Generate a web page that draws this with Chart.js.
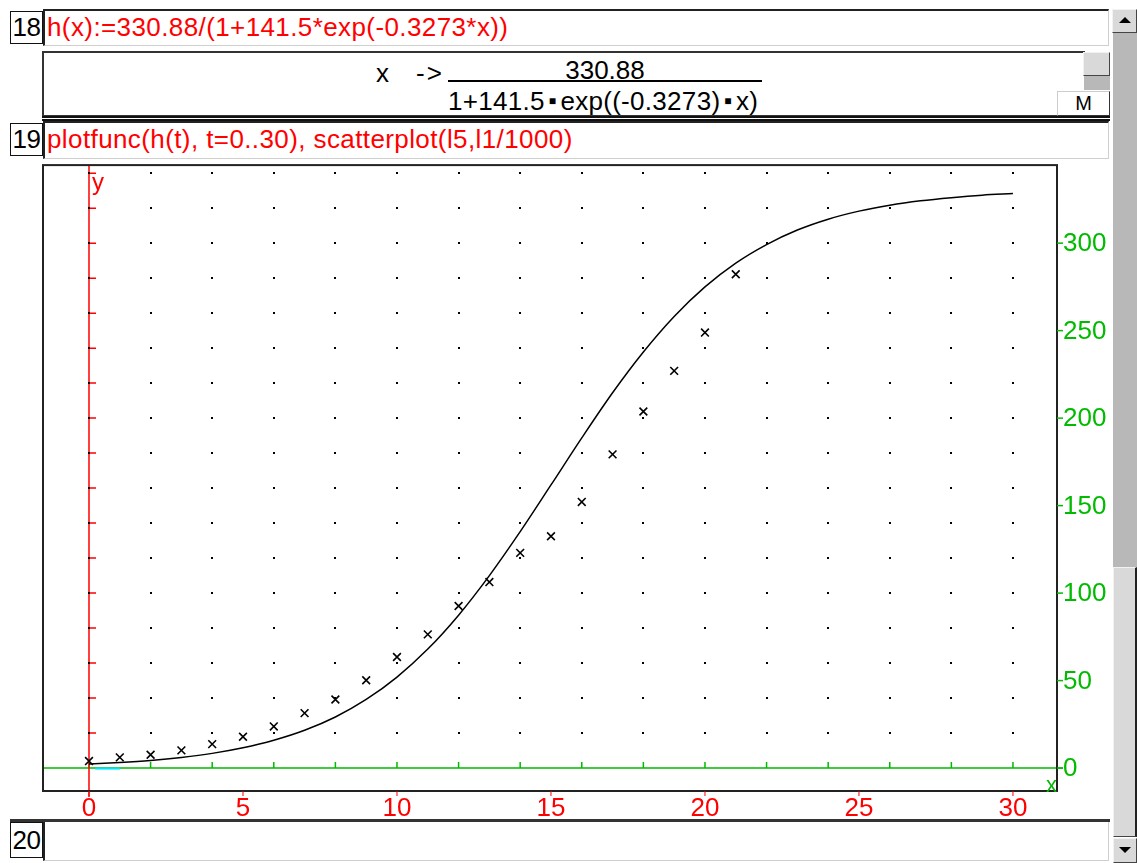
<!DOCTYPE html>
<html>
  <head>
    <meta charset="utf-8" />
    <script src="https://cdn.jsdelivr.net/npm/chart.js"></script>
    <style>
      body {
        margin: 0;
        width: 1137px;
        height: 863px;
        background: #fff;
        position: relative;
        overflow: hidden;
        font-family: "Liberation Sans", Arial, sans-serif;
      }
      .abs { position: absolute; box-sizing: border-box; }
      .num {
        border: 1.5px solid #111;
        font-size: 26px;
        line-height: 30px;
        text-align: center;
        color: #000;
        background: #fff;
        letter-spacing: -0.5px;
      }
      .input {
        border-top: 2px solid #222;
        border-left: 2px solid #222;
        border-bottom: 1.5px solid #cfcfcf;
        border-right: 1.5px solid #cfcfcf;
        color: #ff0000;
        font-size: 26px;
        line-height: 32px;
        padding-left: 2px;
        letter-spacing: 0.4px;
        white-space: pre;
      }
      .out { font-size: 26px; color: #000; white-space: pre; }
      .dot { font-size: 12px; position: relative; top: -5px; margin: 0 4px; }
      .btn {
        background: #d9d9d9;
        border-right: 1.5px solid #444;
        border-bottom: 1.5px solid #444;
        border-top: 1px solid #f2f2f2;
        border-left: 1px solid #f2f2f2;
      }
    </style>
  </head>
  <body>
    <!-- cell 18 -->
    <div class="abs num" style="left:10px;top:11px;width:33px;height:33px;">18</div>
    <div class="abs input" style="left:43px;top:9px;width:1066px;height:37px;">h(x):=330.88/(1+141.5*exp(-0.3273*x))</div>

    <div class="abs" style="left:42px;top:51px;width:1043px;height:66px;border-top:2px solid #333;border-left:2px solid #333;border-bottom:2px solid #333;"></div>
    <div class="abs out" style="left:376px;top:58px;">x</div>
    <div class="abs out" style="left:416px;top:58px;letter-spacing:2px;">-&gt;</div>
    <div class="abs out" style="left:448px;top:55px;width:314px;text-align:center;">330.88</div>
    <div class="abs" style="left:448px;top:80px;width:314px;height:1.5px;background:#000;"></div>
    <div class="abs out" style="left:448px;top:86px;letter-spacing:0.3px;">1+141.5<span class="dot">■</span>exp((-0.3273)<span class="dot">■</span>x)</div>
    <div class="abs btn" style="left:1083px;top:52px;width:27px;height:24px;"></div>
    <div class="abs" style="left:1084px;top:76px;width:26px;height:14px;background:#b8b8b8;"></div>
    <div class="abs" style="left:1057px;top:91px;width:53px;height:25px;background:#fff;border:1px solid #ccc;border-right:1.5px solid #333;border-bottom:1.5px solid #333;font-size:20px;line-height:22px;text-align:center;">M</div>
    <div class="abs" style="left:42px;top:116px;width:1068px;height:2px;background:#111;"></div>
    <div class="abs" style="left:42px;top:119px;width:1068px;height:1.5px;background:#111;"></div>

    <!-- cell 19 -->
    <div class="abs num" style="left:10px;top:123px;width:33px;height:33px;">19</div>
    <div class="abs input" style="left:43px;top:121px;width:1066px;height:38px;">plotfunc(h(t), t=0..30), scatterplot(l5,l1/1000)</div>

    <canvas id="plot" class="abs" width="1112" height="662" style="left:0;top:158px;"></canvas>

    <!-- cell 20 -->
    <div class="abs" style="left:10px;top:819px;width:1100px;height:3px;background:#333;"></div>
    <div class="abs num" style="left:10px;top:822px;width:33px;height:36px;line-height:34px;">20</div>
    <div class="abs input" style="left:43px;top:822px;width:1066px;height:39px;border-top:none;"></div>

    <!-- scrollbar -->
    <div class="abs" style="left:1113px;top:31px;width:24px;height:536px;background:#b8b8b8;"></div>
    <div class="abs btn" style="left:1112px;top:9px;width:25px;height:24px;"></div>
    <div class="abs" style="left:1119px;top:17px;width:0;height:0;border-left:6px solid transparent;border-right:6px solid transparent;border-bottom:6px solid #000;"></div>
    <div class="abs btn" style="left:1113px;top:567px;width:24px;height:270px;border-right:2px solid #222;"></div>
    <div class="abs btn" style="left:1113px;top:838px;width:24px;height:25px;"></div>
    <div class="abs" style="left:1119px;top:847px;width:0;height:0;border-left:6px solid transparent;border-right:6px solid transparent;border-top:6px solid #000;"></div>

    <script>
      // curve h(t) at integer t
      const curveT = [0, 1, 2, 3, 4, 5, 6, 7, 8, 9, 10, 11, 12, 13, 14, 15,
        16, 17, 18, 19, 20, 21, 22, 23, 24, 25, 26, 27, 28, 29, 30];
      const curveH = [2.3, 3.2, 4.4, 6.1, 8.4, 11.6, 15.9, 21.6, 29.2, 39.2,
        52.0, 68.0, 87.4, 110.0, 135.1, 161.8, 188.7, 214.5, 237.8, 258.1,
        275.0, 288.6, 299.2, 307.5, 313.7, 318.3, 321.7, 324.2, 326.0, 327.4, 328.3];

      // scatter points (l5, l1/1000)
      const pointX = [0, 1, 2, 3, 4, 5, 6, 7, 8, 9, 10, 11, 12, 13, 14, 15,
        16, 17, 18, 19, 20, 21];
      const pointY = [4.0, 6.1, 7.6, 10.1, 13.7, 17.9, 23.8, 31.4, 39.2, 50.2,
        63.5, 76.4, 92.6, 106.3, 123.0, 132.5, 152.1, 179.3, 203.8, 227.0,
        248.9, 282.2];

      const xLabels = [0, 5, 10, 15, 20, 25, 30];
      const yLabels = [0, 50, 100, 150, 200, 250, 300];
      const gridX = [0, 2, 4, 6, 8, 10, 12, 14, 16, 18, 20, 22, 24, 26, 28, 30];
      const gridY = [20, 40, 60, 80, 100, 120, 140, 160, 180, 200, 220, 240,
        260, 280, 300, 320, 340];

      const RED = "#ff0000";
      const GREEN = "#00bb00";

      const axesPlugin = {
        id: "xcasAxes",
        beforeDatasetsDraw(chart) {
          const { ctx, chartArea: a, scales } = chart;
          const sx = scales.x, sy = scales.y;
          const x0 = sx.getPixelForValue(0);
          const y0 = sy.getPixelForValue(0);
          ctx.save();

          // green x axis with ticks every 2
          ctx.strokeStyle = GREEN;
          ctx.lineWidth = 1.5;
          ctx.beginPath();
          ctx.moveTo(a.left, y0);
          ctx.lineTo(a.right + 6, y0);
          gridX.forEach((v) => {
            const px = sx.getPixelForValue(v);
            ctx.moveTo(px, y0);
            ctx.lineTo(px, y0 - 6);
          });
          ctx.stroke();

          // small cyan piece on the x axis
          ctx.strokeStyle = "#00e5ff";
          ctx.lineWidth = 2;
          ctx.beginPath();
          ctx.moveTo(sx.getPixelForValue(0.2), y0 + 0.5);
          ctx.lineTo(sx.getPixelForValue(1.0), y0 + 0.5);
          ctx.stroke();

          // red y axis with ticks every 20
          ctx.strokeStyle = RED;
          ctx.lineWidth = 1.5;
          ctx.beginPath();
          ctx.moveTo(x0, a.top);
          ctx.lineTo(x0, a.bottom + 6);
          gridY.forEach((v) => {
            const py = sy.getPixelForValue(v);
            ctx.moveTo(x0, py);
            ctx.lineTo(x0 + 7, py);
          });
          ctx.stroke();

          // dot grid
          ctx.fillStyle = "#000";
          gridX.forEach((gx) => {
            gridY.forEach((gy) => {
              const px = Math.round(sx.getPixelForValue(gx));
              const py = Math.round(sy.getPixelForValue(gy));
              ctx.fillRect(px - 1, py - 1, 2, 2);
            });
          });

          ctx.restore();
        },
        afterDraw(chart) {
          const { ctx, chartArea: a, scales } = chart;
          const sx = scales.x, sy = scales.y;
          ctx.save();

          // frame
          ctx.strokeStyle = "#222";
          ctx.lineWidth = 2;
          ctx.strokeRect(a.left, a.top, a.right - a.left, a.bottom - a.top);

          // red x labels below the frame
          ctx.font = "26px 'Liberation Sans', Arial, sans-serif";
          ctx.fillStyle = RED;
          ctx.strokeStyle = RED;
          ctx.lineWidth = 1;
          ctx.textAlign = "center";
          ctx.textBaseline = "top";
          xLabels.forEach((v) => {
            const px = sx.getPixelForValue(v);
            ctx.beginPath();
            ctx.moveTo(px, a.bottom);
            ctx.lineTo(px, a.bottom + 5);
            ctx.stroke();
            ctx.fillText(String(v), px, a.bottom + 5);
          });

          // green y labels right of the frame
          ctx.fillStyle = GREEN;
          ctx.strokeStyle = GREEN;
          ctx.lineWidth = 1.5;
          ctx.textAlign = "left";
          ctx.textBaseline = "middle";
          yLabels.forEach((v) => {
            const py = sy.getPixelForValue(v);
            ctx.beginPath();
            ctx.moveTo(a.right, py);
            ctx.lineTo(a.right + 6, py);
            ctx.stroke();
            ctx.fillText(String(v), a.right + 6, py + 1);
          });

          // axis names
          ctx.font = "24px 'Liberation Sans', Arial, sans-serif";
          ctx.fillStyle = RED;
          ctx.textBaseline = "alphabetic";
          ctx.fillText("y", sx.getPixelForValue(0) + 3, a.top + 25);
          ctx.fillStyle = GREEN;
          ctx.font = "22px 'Liberation Sans', Arial, sans-serif";
          ctx.fillText("x", a.right - 11, a.bottom + 1);

          ctx.restore();
        },
      };

      new Chart(document.getElementById("plot").getContext("2d"), {
        type: "scatter",
        data: {
          datasets: [
            {
              type: "line",
              data: curveT.map((t, i) => ({ x: t, y: curveH[i] })),
              borderColor: "#000",
              borderWidth: 1.5,
              pointRadius: 0,
              cubicInterpolationMode: "monotone",
              fill: false,
            },
            {
              data: pointX.map((x, i) => ({ x, y: pointY[i] })),
              pointStyle: "crossRot",
              pointRadius: 5.5,
              borderColor: "#000",
              borderWidth: 1.6,
              showLine: false,
            },
          ],
        },
        options: {
          responsive: false,
          animation: false,
          devicePixelRatio: 1,
          layout: { padding: { left: 43, top: 5, right: 55, bottom: 29 } },
          plugins: {
            legend: { display: false },
            tooltip: { enabled: false },
          },
          scales: {
            x: { type: "linear", min: -1.4935, max: 31.43, display: false },
            y: { type: "linear", min: -13.1, max: 344.6, display: false },
          },
        },
        plugins: [axesPlugin],
      });
    </script>
  </body>
</html>
